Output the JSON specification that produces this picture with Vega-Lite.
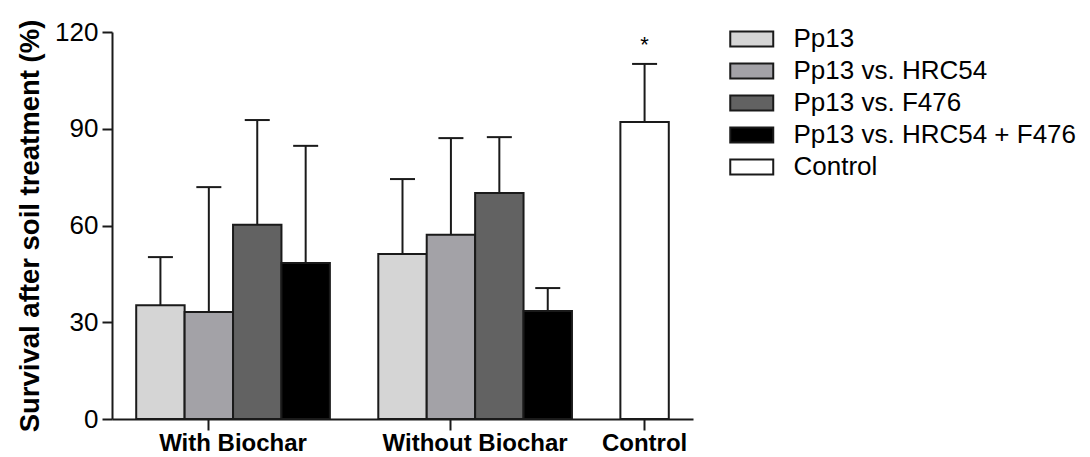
{
  "$schema": "https://vega.github.io/schema/vega-lite/v6.json",
  "autosize": {"type": "none"},
  "padding": {"left": 112, "top": 32, "right": 397, "bottom": 38},
  "width": 581,
  "height": 387,
  "background": "white",
  "config": {
    "font": "Liberation Sans",
    "view": {"stroke": null},
    "axis": {"grid": false, "domainColor": "#1a1a1a", "domainWidth": 2, "tickColor": "#1a1a1a", "tickWidth": 2, "labelColor": "#000", "titleColor": "#000"}
  },
  "data": {
    "values": [
      {"group": "With Biochar", "series": "Pp13", "value": 35.3, "upper": 50.2, "sig": ""},
      {"group": "With Biochar", "series": "Pp13 vs. HRC54", "value": 33.2, "upper": 71.9, "sig": ""},
      {"group": "With Biochar", "series": "Pp13 vs. F476", "value": 60.2, "upper": 92.7, "sig": ""},
      {"group": "With Biochar", "series": "Pp13 vs. HRC54 + F476", "value": 48.4, "upper": 84.7, "sig": ""},
      {"group": "Without Biochar", "series": "Pp13", "value": 51.2, "upper": 74.4, "sig": ""},
      {"group": "Without Biochar", "series": "Pp13 vs. HRC54", "value": 57.1, "upper": 87.1, "sig": ""},
      {"group": "Without Biochar", "series": "Pp13 vs. F476", "value": 70.1, "upper": 87.4, "sig": ""},
      {"group": "Without Biochar", "series": "Pp13 vs. HRC54 + F476", "value": 33.5, "upper": 40.6, "sig": ""},
      {"group": "Control", "series": "Control", "value": 92.1, "upper": 110.1, "sig": "*"}
    ]
  },
  "transform": [{"calculate": "datum.group + '|' + datum.series", "as": "slot"}],
  "encoding": {
    "x": {
      "field": "slot",
      "type": "nominal",
      "sort": null,
      "scale": {
        "domain": [
          "With Biochar|Pp13", "With Biochar|Pp13 vs. HRC54", "With Biochar|Pp13 vs. F476", "With Biochar|Pp13 vs. HRC54 + F476",
          "gap1",
          "Without Biochar|Pp13", "Without Biochar|Pp13 vs. HRC54", "Without Biochar|Pp13 vs. F476", "Without Biochar|Pp13 vs. HRC54 + F476",
          "gap2",
          "Control|Control"
        ],
        "paddingInner": 0,
        "paddingOuter": 0.5
      },
      "axis": {
        "title": null,
        "values": ["With Biochar|Pp13 vs. HRC54", "Without Biochar|Pp13 vs. HRC54", "Control|Control"],
        "labelExpr": "split(datum.value, '|')[0]",
        "labelAngle": 0,
        "labelFontSize": 24,
        "labelFontWeight": "bold",
        "labelLimit": 0,
        "labelPadding": 1,
        "labelOffset": {"condition": {"test": "datum.value === 'Control|Control'", "value": 0}, "value": 24.2},
        "tickSize": 11,
        "encode": {
          "ticks": {
            "update": {
              "x": {"signal": "scale('x', datum.value) + (datum.value === 'Control|Control' ? 0.5 : 1) * bandwidth('x')"},
              "x2": {"signal": "scale('x', datum.value) + (datum.value === 'Control|Control' ? 0.5 : 1) * bandwidth('x')"}
            }
          }
        }
      }
    }
  },
  "layer": [
    {
      "mark": {"type": "bar", "stroke": "#1a1a1a", "strokeWidth": 2},
      "encoding": {
        "y": {
          "field": "value",
          "type": "quantitative",
          "scale": {"domain": [0, 120], "nice": false},
          "axis": {
            "values": [0, 30, 60, 90, 120],
            "title": "Survival after soil treatment (%)",
            "titleFontSize": 27.5,
            "titleFontWeight": "bold",
            "titlePadding": 10,
            "labelFontSize": 26,
            "labelPadding": 4,
            "tickSize": 10
          }
        },
        "fill": {
          "field": "series",
          "type": "nominal",
          "scale": {
            "domain": ["Pp13", "Pp13 vs. HRC54", "Pp13 vs. F476", "Pp13 vs. HRC54 + F476", "Control"],
            "range": ["#d5d5d5", "#a3a2a7", "#626262", "#000000", "#ffffff"]
          },
          "legend": {
            "title": null,
            "orient": "none",
            "legendX": 626.75,
            "legendY": -6,
            "padding": 0,
            "labelFontSize": 26,
            "labelColor": "#000",
            "labelLimit": 0,
            "labelOffset": 28.75,
            "rowPadding": 6,
            "symbolType": "M-2,-0.7H2V0.7H-2Z",
            "symbolSize": 462,
            "symbolStrokeColor": "#1a1a1a",
            "symbolStrokeWidth": 2,
            "symbolOpacity": 1
          }
        }
      }
    },
    {
      "mark": {"type": "rule", "stroke": "#1a1a1a", "strokeWidth": 2},
      "encoding": {
        "y": {"field": "value", "type": "quantitative"},
        "y2": {"field": "upper"}
      }
    },
    {
      "mark": {"type": "tick", "color": "#1a1a1a", "thickness": 2, "size": 25, "opacity": 1},
      "encoding": {
        "y": {"field": "upper", "type": "quantitative"}
      }
    },
    {
      "transform": [{"filter": "datum.sig !== ''"}],
      "mark": {"type": "text", "fontSize": 22, "baseline": "middle", "dy": -19, "color": "#000"},
      "encoding": {
        "y": {"field": "upper", "type": "quantitative"},
        "text": {"field": "sig"}
      }
    }
  ]
}
